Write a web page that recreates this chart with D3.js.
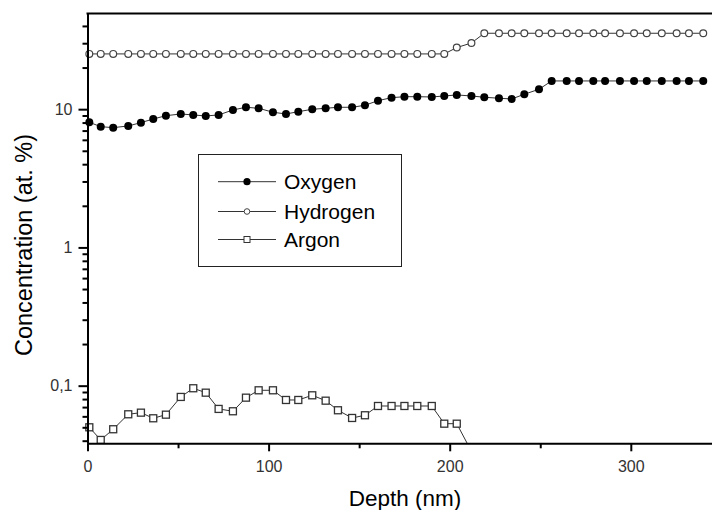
<!DOCTYPE html>
<html>
<head>
<meta charset="utf-8">
<script src="https://cdn.jsdelivr.net/npm/d3@7"></script>
<style>
  html, body { margin: 0; padding: 0; background: #fff; }
  svg { display: block; font-family: Arial, "Liberation Sans", sans-serif; }
</style>
</head>
<body>
<svg id="chart" width="712" height="510"></svg>
<script>
// Sputter depth profile: concentration (at. %) against depth (nm)
const depth = [1.0, 7.3, 14.2, 22.5, 29.5, 36.3, 43.3, 51.5, 58.4, 65.3, 72.4, 80.3,
  87.5, 94.5, 102.4, 109.6, 116.4, 124.1, 131.5, 138.3, 146.1, 153.2, 160.4, 167.9,
  175.0, 182.1, 190.1, 197.0, 203.9, 212.0, 219.1, 227.2, 234.2, 241.2, 249.3, 256.3,
  264.6, 271.4, 279.3, 285.8, 294.0, 301.8, 308.8, 317.1, 325.3, 332.1, 340.0];

const oxygen = [8.04, 7.47, 7.35, 7.56, 7.99, 8.49, 8.97, 9.23, 9.08, 8.93, 9.08, 9.87,
  10.32, 10.15, 9.50, 9.23, 9.59, 9.98, 10.15, 10.32, 10.32, 10.67, 11.52, 12.11,
  12.31, 12.31, 12.25, 12.46, 12.67, 12.46, 12.19, 12.0, 11.85, 12.82, 13.93, 16.0,
  16.0, 16.0, 16.0, 16.0, 16.0, 16.0, 16.0, 16.0, 16.0, 16.0, 16.0];

const hydrogen = [25.1, 25.1, 25.1, 25.1, 25.1, 25.1, 25.1, 25.1, 25.1, 25.1, 25.1, 25.1,
  25.1, 25.1, 25.1, 25.1, 25.1, 25.1, 25.1, 25.1, 25.1, 25.1, 25.1, 25.1,
  25.1, 25.1, 25.1, 25.1, 27.9, 30.1, 35.4, 35.4, 35.4, 35.4, 35.4, 35.4,
  35.4, 35.4, 35.4, 35.4, 35.4, 35.4, 35.4, 35.4, 35.4, 35.4, 35.4];

const argon = [0.050, 0.0405, 0.0484, 0.0621, 0.0638, 0.0581, 0.0617, 0.0829, 0.0958, 0.089,
  0.0679, 0.0653, 0.0819, 0.0926, 0.0926, 0.0788, 0.0788, 0.0852, 0.0779, 0.0664,
  0.0584, 0.0611, 0.0713, 0.0713, 0.0713, 0.0713, 0.0713, 0.0531, 0.0531, 0.0335];

const seriesNames = ["Oxygen", "Hydrogen", "Argon"];
const xTicks = [0, 100, 200, 300];
const xMinorTicks = [50, 150, 250];
const yTicks = [0.1, 1, 10];
const yTickLabels = ["0,1", "1", "10"];

const svg = d3.select("#chart");
const plotLeft = 87.5, plotRight = 712.3, plotTop = 13.5, plotBottom = 443.3;

const x = d3.scaleLinear().domain([0, 345]).range([plotLeft, plotRight]);
const y = d3.scaleLog().domain([0.0383, 49.2]).range([plotBottom, plotTop]);

// minor ticks on the log axis: 2..9 times each decade
const yMinor = [];
[0.01, 0.1, 1, 10].forEach(d => {
  for (let k = 2; k <= 9; k++) {
    const v = +(d * k).toPrecision(3);
    if (v >= y.domain()[0] && v <= y.domain()[1]) yMinor.push(v);
  }
});

svg.append("rect").attr("width", 712).attr("height", 510).attr("fill", "#fff");

svg.append("defs").append("clipPath").attr("id", "plotClip")
  .append("rect").attr("x", 0).attr("y", 0).attr("width", 712).attr("height", plotBottom);

const plot = svg.append("g").attr("clip-path", "url(#plotClip)");

const line = d3.line().x(d => x(d[0])).y(d => y(d[1]));
const ox = depth.map((d, i) => [d, oxygen[i]]);
const hy = depth.map((d, i) => [d, hydrogen[i]]);
const ar = argon.map((v, i) => [depth[i], v]);

[hy, ox, ar].forEach(data => {
  plot.append("path").datum(data).attr("d", line)
    .attr("fill", "none").attr("stroke", "#333").attr("stroke-width", 1);
});

plot.append("g").selectAll("circle").data(hy).join("circle")
  .attr("cx", d => x(d[0])).attr("cy", d => y(d[1])).attr("r", 3.4)
  .attr("fill", "#fff").attr("stroke", "#444").attr("stroke-width", 1.2);

plot.append("g").selectAll("circle").data(ox).join("circle")
  .attr("cx", d => x(d[0])).attr("cy", d => y(d[1])).attr("r", 4)
  .attr("fill", "#000");

plot.append("g").selectAll("rect").data(ar).join("rect")
  .attr("x", d => x(d[0]) - 3.5).attr("y", d => y(d[1]) - 3.5)
  .attr("width", 7).attr("height", 7)
  .attr("fill", "#fff").attr("stroke", "#333").attr("stroke-width", 1.3);

// axes
svg.append("g").attr("transform", `translate(0,${plotBottom})`)
  .call(d3.axisBottom(x).tickValues(xTicks).tickSize(8).tickPadding(9).tickSizeOuter(0));
svg.append("g").attr("transform", `translate(0,${plotBottom})`)
  .call(d3.axisBottom(x).tickValues(xMinorTicks).tickSize(5).tickFormat("").tickSizeOuter(0))
  .call(g => g.select(".domain").remove());

svg.append("g").attr("transform", `translate(${plotLeft},0)`)
  .call(d3.axisLeft(y).tickValues(yTicks).tickSize(9).tickPadding(6)
    .tickFormat((d, i) => yTickLabels[i]).tickSizeOuter(0));
svg.append("g").attr("transform", `translate(${plotLeft},0)`)
  .call(d3.axisLeft(y).tickValues(yMinor).tickSize(5).tickFormat("").tickSizeOuter(0))
  .call(g => g.select(".domain").remove());

svg.selectAll(".domain").attr("stroke", "#000").attr("stroke-width", 2);
svg.selectAll(".tick line").attr("stroke", "#000").attr("stroke-width", 2);
svg.selectAll(".tick text").attr("font-size", 16).attr("fill", "#333")
  .attr("font-family", "Arial, 'Liberation Sans', sans-serif");

// top frame line
svg.append("line").attr("x1", plotLeft - 1).attr("x2", 712).attr("y1", plotTop).attr("y2", plotTop)
  .attr("stroke", "#000").attr("stroke-width", 2);

// axis titles
svg.append("text").attr("x", 405).attr("y", 506).attr("text-anchor", "middle")
  .attr("font-size", 22.5).attr("fill", "#000").text("Depth (nm)");
svg.append("text").attr("transform", "translate(32,245) rotate(-90)")
  .attr("text-anchor", "middle").attr("font-size", 23.5).attr("fill", "#000")
  .text("Concentration (at. %)");

// legend
const legend = svg.append("g");
legend.append("rect").attr("x", 198.5).attr("y", 154.5).attr("width", 203).attr("height", 112)
  .attr("fill", "#fff").attr("stroke", "#222").attr("stroke-width", 1);
const rowsY = [181.7, 211.5, 239.5];
seriesNames.forEach((name, i) => {
  const g = legend.append("g").attr("transform", `translate(0,${rowsY[i]})`);
  g.append("line").attr("x1", 218).attr("x2", 276).attr("y1", 0).attr("y2", 0)
    .attr("stroke", "#333").attr("stroke-width", 1);
  if (i === 0) {
    g.append("circle").attr("cx", 247).attr("cy", 0).attr("r", 3.6).attr("fill", "#000");
  } else if (i === 1) {
    g.append("circle").attr("cx", 247).attr("cy", 0).attr("r", 2.8)
      .attr("fill", "#fff").attr("stroke", "#444").attr("stroke-width", 1);
  } else {
    g.append("rect").attr("x", 244).attr("y", -3).attr("width", 6).attr("height", 6)
      .attr("fill", "#fff").attr("stroke", "#333").attr("stroke-width", 1);
  }
  g.append("text").attr("x", 284).attr("y", 7.5).attr("font-size", 21)
    .attr("fill", "#000").text(name);
});
</script>
</body>
</html>
